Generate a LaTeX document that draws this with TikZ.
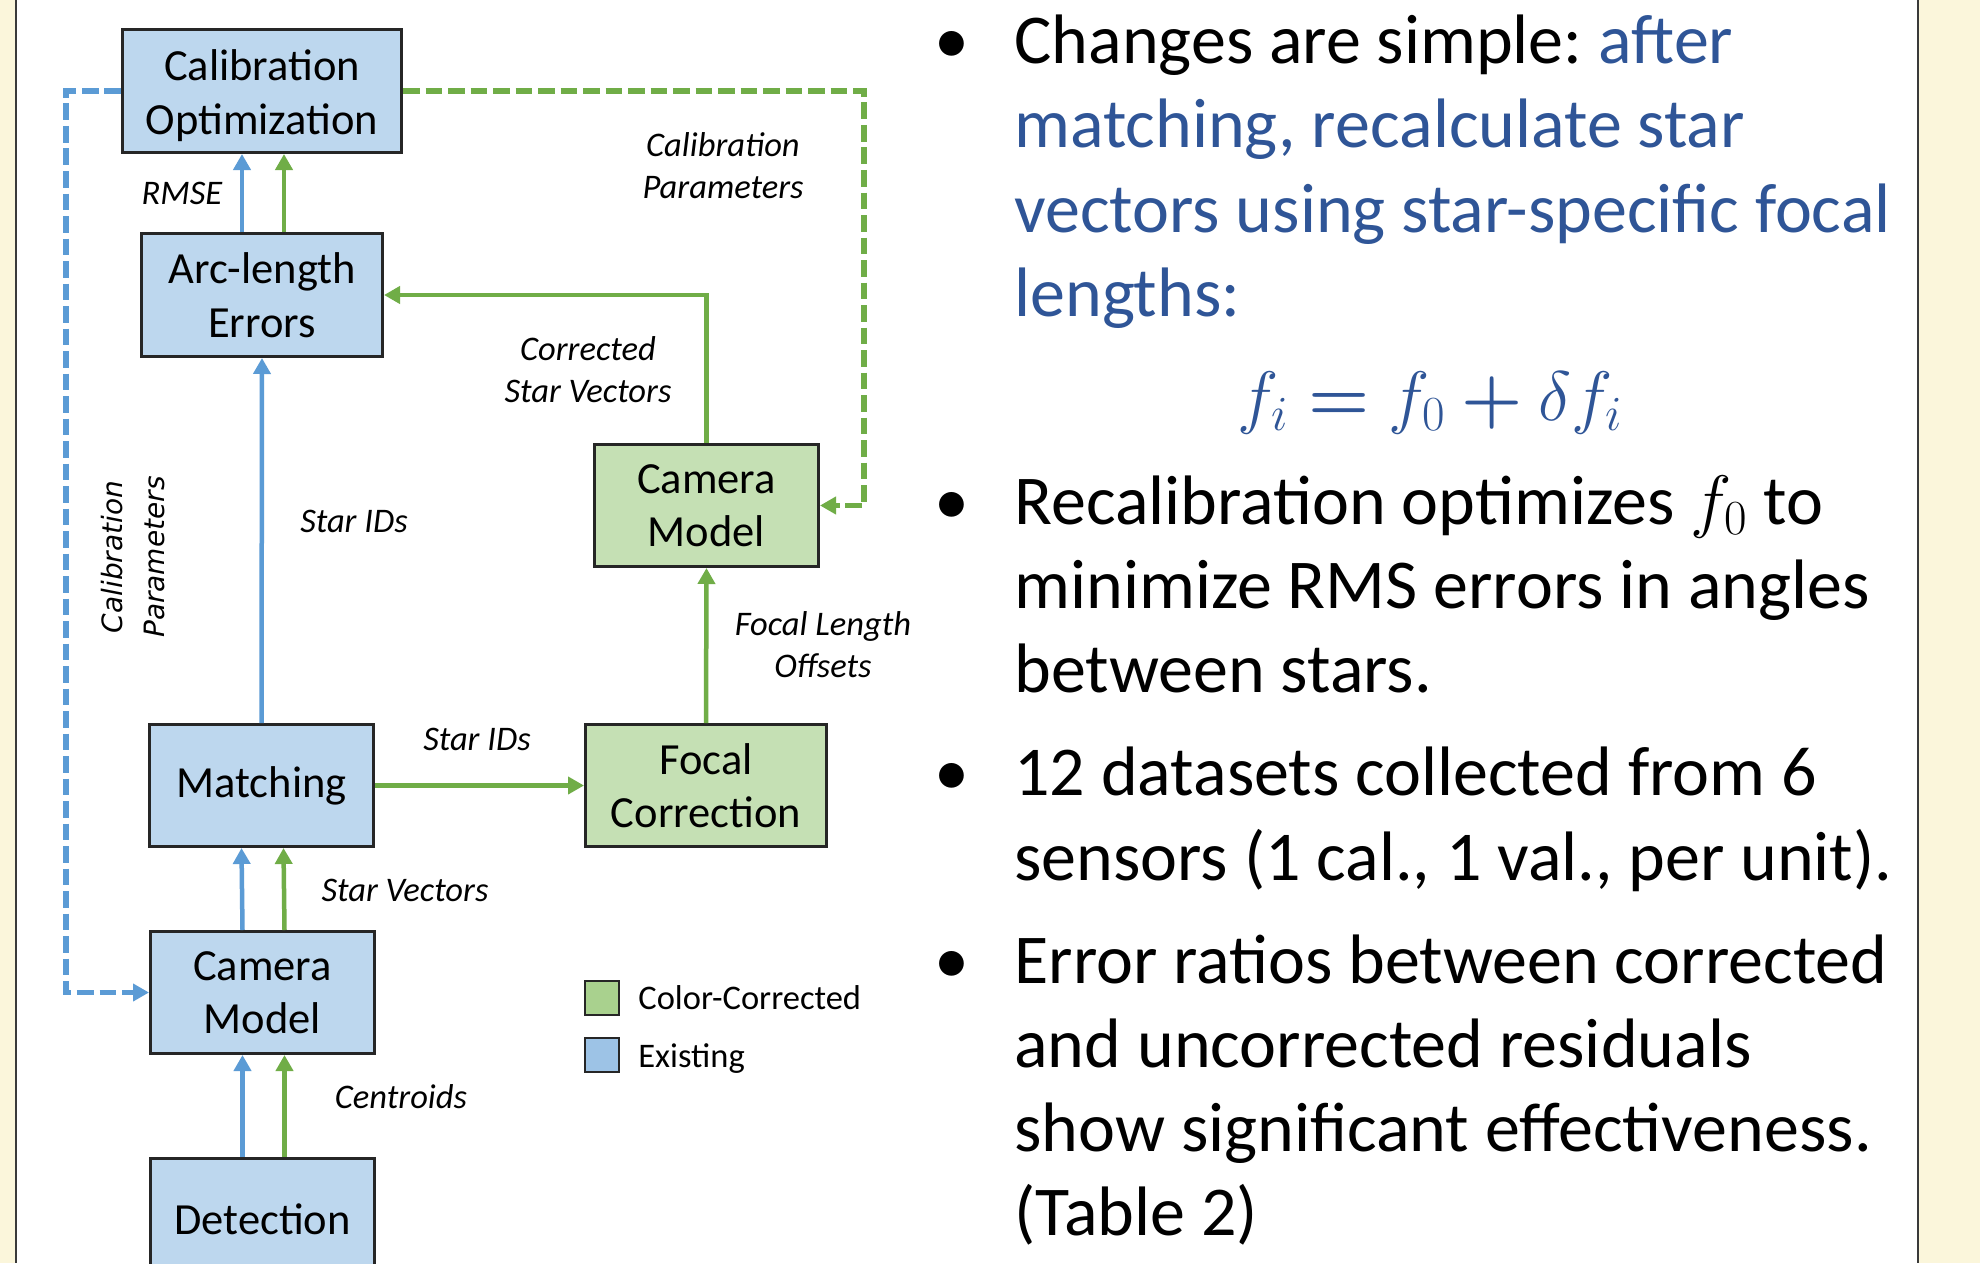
\RequirePackage{fix-cm}
\documentclass[tikz,border=0pt]{standalone}
\usepackage{fontspec}
\setmainfont{Carlito}
\newfontfamily\dvfont{DejaVu Sans}
\usetikzlibrary{arrows.meta}
\frenchspacing
\definecolor{cream}{HTML}{FBF6DB}
\definecolor{panelline}{HTML}{3A3A3A}
\definecolor{boxblue}{HTML}{BDD7EE}
\definecolor{boxgreen}{HTML}{C5E0B4}
\definecolor{legblue}{HTML}{9DC3E6}
\definecolor{leggreen}{HTML}{A9D18E}
\definecolor{arrblue}{HTML}{5B9BD5}
\definecolor{arrgreen}{HTML}{70AD47}
\definecolor{boxline}{HTML}{262626}
\definecolor{txtblue}{HTML}{2F5597}
\newcommand\bxfont{\fontsize{22.25}{26.75}\selectfont}
\newcommand\lbfont{\fontsize{17.25}{20.75}\selectfont\itshape}
\newcommand\btfont{\fontsize{35}{42}\selectfont}
\newcommand\vtfont{\dvfont\itshape\fontsize{14}{21}\selectfont}
\newcommand\bopr[1]{\mbox{\boldmath$#1$}}
\begin{document}
\begin{tikzpicture}[x=0.5pt,y=-0.5pt,
  box/.style={draw=boxline, line width=1.5pt, inner sep=0pt, align=center, font=\bxfont, text=black},
  bbox/.style={box, fill=boxblue},
  gbox/.style={box, fill=boxgreen},
  lbl/.style={font=\lbfont, align=center, inner sep=0pt, anchor=base},
  bar/.style={draw=arrblue, line width=2.25pt, -{Triangle[length=8pt,width=8.5pt]}},
  gar/.style={draw=arrgreen, line width=2.25pt, -{Triangle[length=8pt,width=8.5pt]}},
  bdash/.style={bar, line width=2.6pt, dash pattern=on 8.35pt off 2.9pt},
  gdash/.style={gar, line width=2.6pt, dash pattern=on 8.35pt off 2.9pt},
  bline/.style={font=\btfont, anchor=base west, inner sep=0pt},
  bull/.style={font=\btfont, anchor=base, inner sep=0pt},
  legsq/.style={draw=boxline, line width=1pt, minimum size=17pt, inner sep=0pt},
  legtx/.style={font=\fontsize{17.25}{20}\selectfont, anchor=base west, inner sep=0pt}
]
\useasboundingbox (0,0) rectangle (1980,1263);
\clip (0,0) rectangle (1980,1263);
% background panel
\fill[cream] (0,0) rectangle (1980,1263);
\fill[white] (16,0) rectangle (1918,1263);
\draw[panelline, line width=1.25pt] (16,0) -- (16,1263);
\draw[panelline, line width=1.25pt] (1918,0) -- (1918,1263);

% boxes
\node[bbox, minimum width=139.5pt, minimum height=61.5pt] (calopt) at (262,91) {\rule{0pt}{20pt}Calibration\\Optimization};
\node[bbox, minimum width=120.5pt, minimum height=61.5pt] (arc) at (262,295) {Arc-length\\Errors};
\node[gbox, minimum width=112pt, minimum height=61pt] (gcam) at (706.5,505.5) {Camera\\Model};
\node[gbox, minimum width=120.5pt, minimum height=61pt] (focal) at (706,785.5) {Focal\\Correction};
\node[bbox, minimum width=112pt, minimum height=61pt] (match) at (261.5,785.5) {Matching};
\node[bbox, minimum width=112pt, minimum height=61pt] (bcam) at (262.5,992.5) {Camera\\Model};
\node[bbox, minimum width=112pt, minimum height=61pt] (det) at (262.5,1219.5) {Detection};

% connectors
\draw[bar] ([xshift=-10pt]arc.north) -- ([xshift=-10pt]calopt.south);
\draw[gar] ([xshift=11pt]arc.north) -- ([xshift=11pt]calopt.south);
\draw[bar] (match.north) -- (arc.south);
\draw[gar] (gcam.north) |- (arc.east);
\draw[gar] (focal.north) -- (gcam.south);
\draw[gar] (match.east) -- (focal.west);
\draw[bar] ([xshift=-10pt]bcam.north) -- ([xshift=-10pt]match.south);
\draw[gar] ([xshift=11pt]bcam.north) -- ([xshift=11pt]match.south);
\draw[bar] ([xshift=-10pt]det.north) -- ([xshift=-10pt]bcam.south);
\draw[gar] ([xshift=11pt]det.north) -- ([xshift=11pt]bcam.south);
\coordinate (gc) at (864,91);
\coordinate (bc) at (66,91);
\draw[gdash] (calopt.east) -- (gc) |- (gcam.east);
\draw[bdash] (calopt.west) -- (bc) |- (bcam.west);

% labels
\node[lbl] (lrmse) at (182,204) {RMSE};
\node[lbl] (lcal) at (723,198) {Calibration\\Parameters};
\node[lbl] (lcsv) at (588,402) {Corrected\\Star Vectors};
\node[lbl] (lsid1) at (354,532) {Star IDs};
\node[lbl] (lfl) at (823,677) {Focal Length\\Offsets};
\node[lbl] (lsid2) at (477,750) {Star IDs};
\node[lbl] (lsv) at (405,901) {Star Vectors};
\node[lbl] (lcen) at (401,1108) {Centroids};
\node[font=\vtfont, rotate=90, align=center, inner sep=0pt] (vlab) at (133,557) {Calibration\\Parameters};

% legend
\node[legsq, fill=leggreen] (lgg) at (602,998) {};
\node[legsq, fill=legblue] (lgb) at (602,1055) {};
\node[legtx] (lgtg) at (638,1009) {Color-Corrected};
\node[legtx] (lgtb) at (638,1067) {Existing};

% right text
\node[bull] (b1) at (952,64) {\textbullet};
\node[bline] (t11) at (1014,64) {Changes are simple: \textcolor{txtblue}{after}};
\node[bline, text=txtblue] (t12) at (1014,148) {matching, recalculate star};
\node[bline, text=txtblue] (t13) at (1014,232) {vectors using star-specific focal};
\node[bline, text=txtblue] (t14) at (1014,316) {lengths:};
\node[font=\btfont, anchor=base, inner sep=0pt, text=txtblue] (fm) at (1430,420) {$f_i \mathrel{\bopr{=}} f_0 \mathbin{\bopr{+}} \delta f_i$};
\node[bull] (b2) at (952,524) {\textbullet};
\node[bline] (t21) at (1014,524) {Recalibration optimizes $f_0$ to};
\node[bline] (t22) at (1014,608) {minimize RMS errors in angles};
\node[bline] (t23) at (1014,692) {between stars.};
\node[bull] (b3) at (952,795) {\textbullet};
\node[bline] (t31) at (1014,795) {12 datasets collected from 6};
\node[bline] (t32) at (1014,880) {sensors (1 cal., 1 val., per unit).};
\node[bull] (b4) at (952,983) {\textbullet};
\node[bline] (t41) at (1014,983) {Error ratios between corrected};
\node[bline] (t42) at (1014,1067) {and uncorrected residuals};
\node[bline] (t43) at (1014,1151) {show significant effectiveness.};
\node[bline] (t44) at (1014,1235) {(Table 2)};
\end{tikzpicture}
\end{document}
